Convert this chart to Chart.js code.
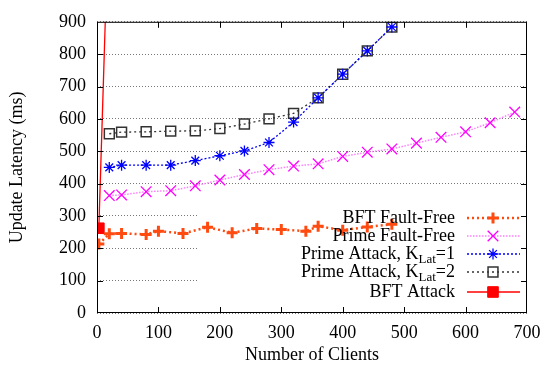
<!DOCTYPE html>
<html>
<head>
<meta charset="utf-8">
<script src="https://cdn.jsdelivr.net/npm/chart.js@4/dist/chart.umd.min.js"></script>
<style>
  body { margin: 0; background: #fff; }
  #wrap { width: 558px; height: 374px; }
</style>
</head>
<body>
<div id="wrap"><canvas id="chart"></canvas></div>
<script>
// values (x = number of clients, y = latency in ms)
const bftFreeX = [3, 20, 40, 80, 100, 140, 180, 220, 260, 300, 340, 360, 400, 440, 480];
const bftFreeY = [213, 245, 246, 243, 253, 246, 265, 248, 261, 258, 253, 268, 256, 266, 274];

const primeFreeX = [20, 40, 80, 120, 160, 200, 240, 280, 320, 360, 400, 440, 480, 520, 560, 600, 640, 680];
const primeFreeY = [363, 365, 375, 378, 393, 411, 428, 443, 454, 461, 484, 497, 507, 525, 543, 560, 588, 621];

const primeAttackX = [20, 40, 80, 120, 160, 200, 240, 280, 320, 360, 400, 440, 480];
const primeK1Y = [450, 457, 457, 457, 471, 486, 501, 527, 590, 665, 738, 810, 884];
const primeK2Y = [554, 559, 560, 562, 563, 570, 584, 600, 617, 665, 738, 810, 884];

// second point is far off the top of the plot
const bftAttackX = [3, 20];
const bftAttackY = [262, 1300];

const xTicks = [0, 100, 200, 300, 400, 500, 600, 700];
const yTicks = [0, 100, 200, 300, 400, 500, 600, 700, 800, 900];

// legend: text before the subscript, subscript, text after
const legendText = [
    ['BFT Fault-Free', '', ''],
    ['Prime Fault-Free', '', ''],
    ['Prime Attack, K', 'Lat', '=1'],
    ['Prime Attack, K', 'Lat', '=2'],
    ['BFT Attack', '', '']
];

function toPoints(xs, ys) {
    return xs.map((x, i) => ({ x: x, y: ys[i] }));
}

const serif = 'Liberation Serif, Times New Roman, serif';

// white key box that hides the grid, like gnuplot's opaque key
const keyBox = {
    id: 'keyBox',
    beforeDatasetsDraw(chart) {
        const ctx = chart.ctx;
        const a = chart.chartArea;
        ctx.save();
        ctx.fillStyle = '#fff';
        ctx.fillRect(198, 200, a.right - 198, a.bottom - 200);
        ctx.restore();
    },
    afterDatasetsDraw(chart) {
        const ctx = chart.ctx;
        const a = chart.chartArea;
        ctx.save();
        // frame
        ctx.strokeStyle = '#000';
        ctx.lineWidth = 1;
        ctx.setLineDash([]);
        ctx.strokeRect(a.left + 0.5, a.top + 0.5, a.right - a.left - 1, a.bottom - a.top - 1);
        // inward ticks
        const xs = chart.scales.x, ys = chart.scales.y;
        ctx.beginPath();
        xTicks.slice(1, -1).forEach(v => {
            const px = Math.round(xs.getPixelForValue(v)) + 0.5;
            ctx.moveTo(px, a.bottom); ctx.lineTo(px, a.bottom - 6);
            ctx.moveTo(px, a.top); ctx.lineTo(px, a.top + 6);
        });
        yTicks.slice(1, -1).forEach(v => {
            const py = Math.round(ys.getPixelForValue(v)) + 0.5;
            ctx.moveTo(a.left, py); ctx.lineTo(a.left + 6, py);
            ctx.moveTo(a.right, py); ctx.lineTo(a.right - 6, py);
        });
        ctx.stroke();

        // key entries
        const rowY = [218, 236, 254, 272, 292];
        const textRight = 455;
        chart.data.datasets.forEach((ds, i) => {
            const y = rowY[i];
            const parts = legendText[i];
            ctx.fillStyle = '#000';
            ctx.textBaseline = 'middle';
            ctx.textAlign = 'left';
            ctx.font = '18px ' + serif;
            const w0 = ctx.measureText(parts[0]).width;
            const w2 = ctx.measureText(parts[2]).width;
            ctx.font = '13px ' + serif;
            const w1 = ctx.measureText(parts[1]).width;
            let x = textRight - w0 - w1 - w2;
            ctx.font = '18px ' + serif;
            ctx.fillText(parts[0], x, y);
            x += w0;
            ctx.font = '13px ' + serif;
            ctx.fillText(parts[1], x, y + 6);
            x += w1;
            ctx.font = '18px ' + serif;
            ctx.fillText(parts[2], x, y);

            ctx.strokeStyle = ds.borderColor;
            ctx.lineWidth = ds.borderWidth;
            ctx.setLineDash(ds.borderDash || []);
            ctx.beginPath();
            ctx.moveTo(467, y); ctx.lineTo(520, y);
            ctx.stroke();
            ctx.setLineDash([]);
            ctx.strokeStyle = ds.pointBorderColor;
            ctx.fillStyle = ds.pointBackgroundColor;
            ctx.lineWidth = ds.pointBorderWidth;
            Chart.helpers.drawPoint(ctx, {
                pointStyle: ds.pointStyle,
                radius: ds.pointRadius,
                rotation: 0,
                borderWidth: ds.pointBorderWidth
            }, 493, y);
        });
        ctx.restore();
    }
};

new Chart(document.getElementById('chart'), {
    type: 'line',
    data: {
        datasets: [
            {
                label: 'BFT Fault-Free',
                data: toPoints(bftFreeX, bftFreeY),
                borderColor: '#ff4a10',
                borderWidth: 2.5,
                borderDash: [2, 3],
                pointStyle: 'cross',
                pointRadius: 5.5,
                pointBorderWidth: 3,
                pointBorderColor: '#ff4a10',
                pointBackgroundColor: '#ff4a10'
            },
            {
                label: 'Prime Fault-Free',
                data: toPoints(primeFreeX, primeFreeY),
                borderColor: '#ff80ff',
                borderWidth: 1.5,
                borderDash: [1.5, 1.5],
                pointStyle: 'crossRot',
                pointRadius: 7.5,
                pointBorderWidth: 1.3,
                pointBorderColor: '#ff00ff',
                pointBackgroundColor: '#ff00ff'
            },
            {
                label: 'Prime Attack, K=1',
                data: toPoints(primeAttackX, primeK1Y),
                borderColor: '#0000ff',
                borderWidth: 1.3,
                borderDash: [2, 2],
                pointStyle: 'star',
                pointRadius: 5.5,
                pointBorderWidth: 1.3,
                pointBorderColor: '#0000ff',
                pointBackgroundColor: '#0000ff'
            },
            {
                label: 'Prime Attack, K=2',
                data: toPoints(primeAttackX, primeK2Y),
                borderColor: '#333',
                borderWidth: 1.3,
                borderDash: [2, 3],
                pointStyle: 'rect',
                pointRadius: 7,
                pointBorderWidth: 1.5,
                pointBorderColor: '#333',
                pointBackgroundColor: 'rgba(0,0,0,0)'
            },
            {
                label: 'BFT Attack',
                data: toPoints(bftAttackX, bftAttackY),
                borderColor: '#ff0000',
                borderWidth: 1.3,
                borderDash: [],
                pointStyle: 'rect',
                pointRadius: 7.5,
                pointBorderWidth: 1,
                pointBorderColor: '#ff0000',
                pointBackgroundColor: '#ff0000'
            }
        ]
    },
    options: {
        responsive: true,
        maintainAspectRatio: false,
        animation: false,
        layout: { padding: { left: 0, top: 12, right: 31, bottom: 0 } },
        plugins: {
            legend: { display: false },
            tooltip: { enabled: false }
        },
        elements: { line: { tension: 0 } },
        scales: {
            x: {
                type: 'linear',
                min: 0,
                max: 700,
                afterFit: s => { s.height = 61; },
                afterBuildTicks: s => { s.ticks = xTicks.map(v => ({ value: v })); },
                grid: { display: false, drawTicks: false },
                border: { display: false },
                ticks: { color: '#000', padding: 9, font: { family: serif, size: 18 } },
                title: {
                    display: true,
                    text: 'Number of Clients',
                    color: '#000',
                    font: { family: serif, size: 18 },
                    padding: { top: 0, bottom: 8 }
                }
            },
            y: {
                min: 0,
                max: 900,
                afterFit: s => { s.width = 97; },
                afterBuildTicks: s => { s.ticks = yTicks.map(v => ({ value: v })); },
                grid: { color: '#777', borderDash: [1, 2], drawTicks: false },
                border: { display: false, dash: [1, 2] },
                ticks: { color: '#000', padding: 11, font: { family: serif, size: 18 } },
                title: {
                    display: true,
                    text: 'Update Latency (ms)',
                    color: '#000',
                    font: { family: serif, size: 18 },
                    padding: { top: 6, bottom: 0 }
                }
            }
        }
    },
    plugins: [keyBox]
});
</script>
</body>
</html>
